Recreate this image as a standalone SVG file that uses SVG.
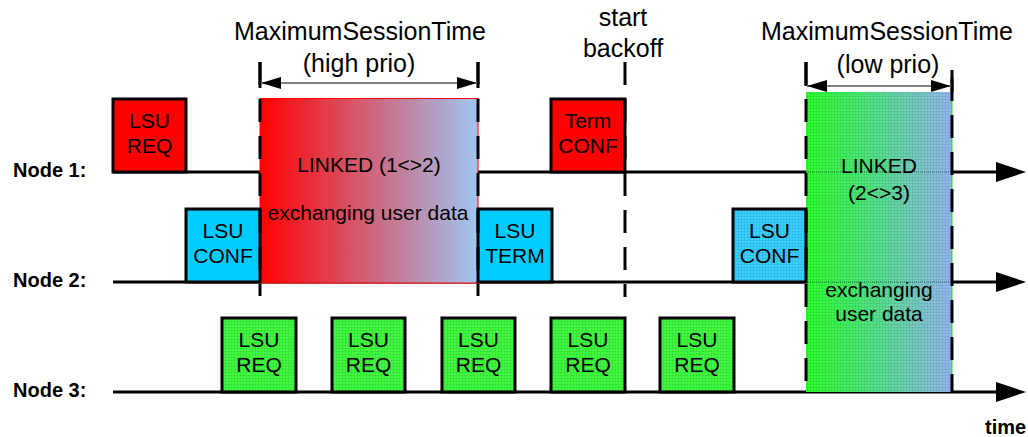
<svg xmlns="http://www.w3.org/2000/svg" width="1028" height="437" viewBox="0 0 1028 437">
  <defs>
    <style>
      .lane { stroke: #000; stroke-width: 3; fill: none; }
      .box { stroke: #000; stroke-width: 3; }
      .red { fill: #ff0000; }
      .cyan { fill: #00ccff; }
      .t { font-family: "Liberation Sans", Arial, sans-serif; font-size: 21px; fill: #000; text-anchor: middle; }
      .big { font-family: "Liberation Sans", Arial, sans-serif; font-size: 25px; fill: #000; text-anchor: middle; }
      .lbl { font-family: "Liberation Sans", Arial, sans-serif; font-size: 20px; font-weight: bold; fill: #000; }
      .dash { stroke: #000; stroke-width: 3; stroke-dasharray: 23 14; fill: none; }
      .tick { stroke: #000; stroke-width: 3; }
      .dim { stroke: #808080; stroke-width: 2; }
      .frame { fill: none; stroke: #000; stroke-width: 3; }
    </style>
    <linearGradient id="hiGrad" x1="0" y1="0" x2="1" y2="0">
      <stop offset="0" stop-color="#ff0000"/>
      <stop offset="1" stop-color="#9fc6f2"/>
    </linearGradient>
    <linearGradient id="loGrad" x1="0" y1="0" x2="1" y2="0">
      <stop offset="0" stop-color="#2cff2c"/>
      <stop offset="0.5" stop-color="#55e08e"/>
      <stop offset="1" stop-color="#95b6f2"/>
    </linearGradient>
    <!-- fine mesh texture used on the hatched fills -->
    <pattern id="mesh" width="3" height="3" patternUnits="userSpaceOnUse">
      <rect x="0" y="0" width="3" height="1" fill="#000" fill-opacity="0.07"/>
      <rect x="0" y="0" width="1" height="3" fill="#000" fill-opacity="0.07"/>
    </pattern>
    <marker id="laneHead" viewBox="0 0 30 20" refX="0" refY="10" markerWidth="30" markerHeight="20" markerUnits="userSpaceOnUse" orient="auto">
      <path d="M0,0 L30,10 L0,20 z" fill="#000"/>
    </marker>
    <marker id="dimHead" viewBox="0 0 20 12" refX="20" refY="6" markerWidth="20" markerHeight="12" markerUnits="userSpaceOnUse" orient="auto-start-reverse">
      <path d="M0,0 L20,6 L0,12 z" fill="#000"/>
    </marker>
  </defs>

  <rect width="1028" height="437" fill="#fff"/>

  <!-- node labels -->
  <g id="labels">
    <text class="lbl" x="13" y="177">Node 1:</text>
    <text class="lbl" x="13" y="287">Node 2:</text>
    <text class="lbl" x="13" y="397">Node 3:</text>
    <text class="lbl" x="985" y="434">time</text>
  </g>

  <!-- time axes of the three nodes -->
  <g id="connectors">
    <line class="lane" x1="113" y1="172" x2="996" y2="172" marker-end="url(#laneHead)"/>
    <line class="lane" x1="113" y1="282" x2="996" y2="282" marker-end="url(#laneHead)"/>
    <line class="lane" x1="113" y1="392" x2="996" y2="392" marker-end="url(#laneHead)"/>
  </g>

  <!-- high priority session between node 1 and node 2 -->
  <g id="session-high">
    <rect x="260" y="98.5" width="218" height="184.5" fill="url(#hiGrad)" stroke="#ff0000" stroke-width="1"/>
    <text class="t" x="369" y="172">LINKED (1&lt;&gt;2)</text>
    <text class="t" x="368" y="220">exchanging user data</text>
  </g>

  <!-- low priority session between node 2 and node 3 -->
  <g id="session-low">
    <rect x="806" y="92" width="146" height="300" fill="url(#loGrad)"/>
    <rect x="806" y="92" width="146" height="300" fill="url(#mesh)"/>
    <line x1="952" y1="92" x2="952" y2="392" stroke="#22dd22" stroke-width="1"/>
    <line x1="806" y1="172" x2="952" y2="172" stroke="#1a3a2a" stroke-width="1" stroke-dasharray="1 1" stroke-opacity="0.7"/>
    <line x1="806" y1="282" x2="952" y2="282" stroke="#1a3a2a" stroke-width="1" stroke-dasharray="1 1" stroke-opacity="0.7"/>
    <text class="t" x="879" y="173">LINKED</text>
    <text class="t" x="879" y="200">(2&lt;&gt;3)</text>
    <text class="t" x="879" y="297">exchanging</text>
    <text class="t" x="879" y="321">user data</text>
  </g>

  <!-- node 1 messages -->
  <g id="n1-lsu-req">
    <rect class="box red" x="113" y="99" width="73" height="73"/>
    <text class="t" x="149.5" y="128">LSU</text>
    <text class="t" x="149.5" y="153">REQ</text>
  </g>
  <g id="n1-term-conf">
    <rect class="box red" x="551" y="99" width="74" height="73"/>
    <text class="t" x="588" y="128">Term</text>
    <text class="t" x="588" y="153">CONF</text>
  </g>

  <!-- node 2 messages -->
  <g id="n2-lsu-conf-1">
    <rect class="box cyan" x="186" y="209" width="74" height="73"/>
    <text class="t" x="223" y="238">LSU</text>
    <text class="t" x="223" y="263">CONF</text>
  </g>
  <g id="n2-lsu-term">
    <rect class="box cyan" x="478" y="209" width="74" height="73"/>
    <text class="t" x="515" y="238">LSU</text>
    <text class="t" x="515" y="263">TERM</text>
  </g>
  <g id="n2-lsu-conf-2">
    <rect x="733" y="209" width="73" height="73" fill="#38d0ff"/>
    <rect x="733" y="209" width="73" height="73" fill="url(#mesh)"/>
    <rect class="frame" x="733" y="209" width="73" height="73"/>
    <text class="t" x="769.5" y="238">LSU</text>
    <text class="t" x="769.5" y="263">CONF</text>
  </g>

  <!-- node 3 link requests -->
  <g id="n3-lsu-req-1">
    <rect x="222" y="318" width="74" height="74" fill="#40fa40"/>
    <rect x="222" y="318" width="74" height="74" fill="url(#mesh)"/>
    <rect class="frame" x="222" y="318" width="74" height="74"/>
    <text class="t" x="259" y="347">LSU</text>
    <text class="t" x="259" y="372">REQ</text>
  </g>
  <g id="n3-lsu-req-2">
    <rect x="332" y="318" width="73" height="74" fill="#40fa40"/>
    <rect x="332" y="318" width="73" height="74" fill="url(#mesh)"/>
    <rect class="frame" x="332" y="318" width="73" height="74"/>
    <text class="t" x="368.5" y="347">LSU</text>
    <text class="t" x="368.5" y="372">REQ</text>
  </g>
  <g id="n3-lsu-req-3">
    <rect x="442" y="318" width="73" height="74" fill="#40fa40"/>
    <rect x="442" y="318" width="73" height="74" fill="url(#mesh)"/>
    <rect class="frame" x="442" y="318" width="73" height="74"/>
    <text class="t" x="478.5" y="347">LSU</text>
    <text class="t" x="478.5" y="372">REQ</text>
  </g>
  <g id="n3-lsu-req-4">
    <rect x="551" y="318" width="74" height="74" fill="#40fa40"/>
    <rect x="551" y="318" width="74" height="74" fill="url(#mesh)"/>
    <rect class="frame" x="551" y="318" width="74" height="74"/>
    <text class="t" x="588" y="347">LSU</text>
    <text class="t" x="588" y="372">REQ</text>
  </g>
  <g id="n3-lsu-req-5">
    <rect x="660" y="318" width="74" height="74" fill="#40fa40"/>
    <rect x="660" y="318" width="74" height="74" fill="url(#mesh)"/>
    <rect class="frame" x="660" y="318" width="74" height="74"/>
    <text class="t" x="697" y="347">LSU</text>
    <text class="t" x="697" y="372">REQ</text>
  </g>

  <!-- time markers -->
  <g id="markers">
    <line class="dash" x1="260" y1="62" x2="260" y2="296"/>
    <line class="dash" x1="478" y1="62" x2="478" y2="296"/>
    <line class="dash" x1="625" y1="62" x2="625" y2="297"/>
    <line class="dash" x1="806" y1="62" x2="806" y2="392" stroke="#0a3a0a"/>
    <line class="dash" x1="952" y1="70" x2="952" y2="392" stroke-dashoffset="-8"/>
    <line class="tick" x1="260" y1="62" x2="260" y2="88"/>
    <line class="tick" x1="478" y1="62" x2="478" y2="88"/>
    <line class="tick" x1="806" y1="62" x2="806" y2="86"/>
    <line class="tick" x1="952" y1="70" x2="952" y2="92"/>
  </g>

  <!-- session time spans -->
  <g id="span-high">
    <line class="dim" x1="261" y1="83" x2="477" y2="83" marker-start="url(#dimHead)" marker-end="url(#dimHead)"/>
    <text class="big" x="360" y="40">MaximumSessionTime</text>
    <text class="big" x="359" y="72">(high prio)</text>
  </g>
  <g id="span-low">
    <line class="dim" x1="807" y1="86" x2="951" y2="86" marker-start="url(#dimHead)" marker-end="url(#dimHead)"/>
    <text class="big" x="887" y="40">MaximumSessionTime</text>
    <text class="big" x="888" y="73">(low prio)</text>
  </g>
  <g id="backoff">
    <text class="big" x="623" y="26">start</text>
    <text class="big" x="623" y="57">backoff</text>
  </g>
</svg>
